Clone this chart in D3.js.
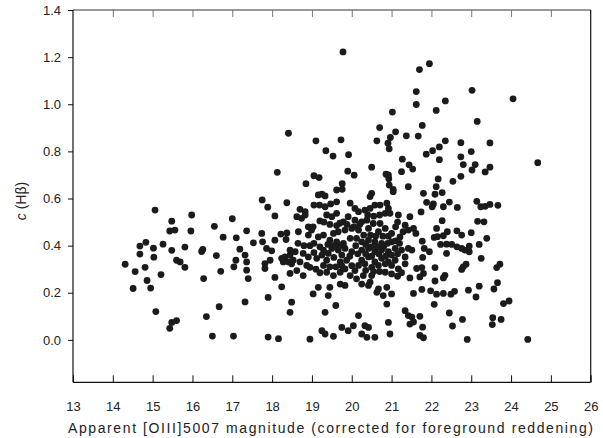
<!DOCTYPE html>
<html>
<head>
<meta charset="utf-8">
<script src="https://cdn.jsdelivr.net/npm/d3@7"></script>
<style>
    body { margin: 0; background: #fff; }
    text { font-family: "Liberation Sans", Arial, sans-serif; fill: #222; }
</style>
</head>
<body>
<svg id="chart" width="603" height="438"></svg>
<script>
// tick values
var xTicks = [13, 14, 15, 16, 17, 18, 19, 20, 21, 22, 23, 24, 25, 26];
var yTicks = [0, 0.2, 0.4, 0.6, 0.8, 1.0, 1.2, 1.4];

// [apparent OIII 5007 mag, c(Hb)]
var bright = [
    [15.06,0.551],[15.48,0.504],[15.98,0.530],[17.00,0.514],[15.43,0.462],[15.56,0.466],[15.96,0.462],[16.55,0.482],[16.77,0.436],[17.10,0.433],
    [14.68,0.398],[14.83,0.414],[15.02,0.389],[15.26,0.406],[15.48,0.380],[15.81,0.394],[16.23,0.375],[16.26,0.384],[16.60,0.358],[17.19,0.385],
    [14.68,0.364],[15.03,0.351],[15.60,0.338],[15.69,0.331],[15.81,0.308],[17.09,0.338],[17.04,0.310],[14.31,0.321],[14.56,0.290],[14.81,0.308],
    [15.21,0.277],[14.86,0.252],[14.51,0.218],[14.95,0.220],[16.28,0.260],[16.71,0.291],[15.08,0.120],[15.48,0.074],[15.60,0.082],[15.43,0.049],
    [16.35,0.099],[16.67,0.141],[16.50,0.016],[17.03,0.016]
];
var upperMid = [
    [19.78,1.222],[21.02,0.967],[18.41,0.877],[20.70,0.901],[21.10,0.883],[20.97,0.859],[21.37,0.866],[19.10,0.845],[19.73,0.849],[20.63,0.845],
    [20.91,0.835],[20.94,0.811],[19.35,0.803],[19.53,0.780],[19.92,0.786],[21.27,0.767],[21.44,0.743],[20.50,0.733],[21.25,0.714],[18.13,0.711],
    [19.05,0.697],[19.18,0.689],[19.90,0.716],[20.06,0.699],[20.86,0.703],[20.92,0.700],[20.93,0.684],[20.94,0.657],[18.85,0.663],[19.76,0.663],
    [19.62,0.636],[19.76,0.639],[21.04,0.639],[21.42,0.650]
];
var upperFaint = [
    [21.95,1.172],[21.70,1.147],[21.62,1.054],[23.02,1.059],[24.05,1.023],[21.62,0.999],[22.35,1.014],[22.12,0.974],[23.15,0.927],[21.77,0.910],
    [21.67,0.865],[22.35,0.845],[22.74,0.837],[23.47,0.836],[22.20,0.819],[22.03,0.803],[21.87,0.788],[23.00,0.799],[22.74,0.777],[22.20,0.765],
    [21.53,0.725],[22.80,0.744],[23.10,0.744],[23.02,0.721],[23.47,0.733],[23.35,0.713],[24.67,0.752],[22.17,0.683],[22.74,0.694],[22.54,0.673],
    [22.12,0.650]
];
var lowerFaint = [
    [22.09,0.618],[22.27,0.625],[21.80,0.622],[21.88,0.584],[22.05,0.577],[22.02,0.565],[22.30,0.565],[22.45,0.585],[22.65,0.562],[21.74,0.543],
    [23.14,0.588],[23.24,0.565],[23.35,0.567],[23.47,0.575],[23.67,0.571],[22.27,0.506],[23.16,0.503],[23.32,0.501],[21.55,0.473],[21.61,0.452],
    [22.13,0.473],[22.07,0.435],[22.15,0.438],[22.30,0.442],[22.40,0.459],[22.64,0.463],[22.76,0.445],[23.00,0.455],[23.39,0.431],[21.77,0.419],
    [23.20,0.405],[22.23,0.405],[22.38,0.406],[22.51,0.405],[22.64,0.395],[22.76,0.388],[22.84,0.381],[22.95,0.398],[22.95,0.374],[22.38,0.367],
    [21.82,0.388],[21.95,0.374],[21.51,0.381],[21.78,0.350],[23.25,0.346],[21.63,0.303],[21.76,0.307],[21.80,0.282],[21.71,0.267],[22.09,0.307],
    [22.80,0.310],[22.87,0.321],[22.76,0.299],[23.64,0.307],[23.72,0.321],[21.46,0.263],[22.30,0.263],[22.34,0.274],[22.09,0.250],[23.66,0.243],
    [23.57,0.216],[23.20,0.228],[22.93,0.211],[23.12,0.182],[21.55,0.197],[21.76,0.214],[21.98,0.208],[22.13,0.194],[22.30,0.197],[22.49,0.194],
    [22.58,0.206],[22.07,0.151],[22.45,0.114],[23.81,0.154],[23.95,0.165],[21.51,0.097],[21.55,0.076],[21.71,0.100],[21.78,0.054],[22.53,0.059],
    [22.78,0.087],[23.54,0.094],[23.53,0.065],[23.75,0.087],[21.71,0.019],[21.80,0.009],[22.90,0.002],[24.42,0.002]
];
var midLeft = [
    [17.75,0.594],[18.37,0.582],[17.89,0.563],[18.07,0.526],[17.36,0.463],[17.53,0.412],[17.74,0.452],[17.76,0.416],[18.07,0.423],[18.22,0.449],
    [18.37,0.454],[18.35,0.426],[17.32,0.360],[17.36,0.331],[17.36,0.296],[17.40,0.260],[17.86,0.388],[17.99,0.378],[17.82,0.324],[17.82,0.303],
    [17.95,0.338],[18.07,0.265],[18.24,0.346],[18.32,0.352],[18.28,0.331],[18.41,0.331],[18.45,0.360],[18.45,0.282],[18.24,0.225],[17.90,0.180],
    [17.32,0.161],[17.90,0.012],[18.16,0.005]
];
var coreUpperLeft = [
    [19.16,0.615],[19.25,0.619],[19.33,0.611],[19.05,0.572],[19.19,0.572],[19.33,0.565],[19.47,0.577],[19.62,0.586],[19.96,0.580],[20.08,0.558],
    [18.70,0.554],[18.83,0.544],[18.62,0.523],[18.74,0.516],[18.83,0.530],[19.37,0.530],[19.50,0.523],[19.62,0.537],[19.79,0.501],[19.91,0.523],
    [20.08,0.508],[18.91,0.480],[19.03,0.480],[18.99,0.466],[18.66,0.459],[18.91,0.445],[19.16,0.437],[19.29,0.445],[19.54,0.452],[19.66,0.459],
    [19.83,0.466],[20.00,0.473],[19.45,0.423],[19.62,0.416],[19.79,0.409],[19.96,0.431],[18.45,0.381],[18.58,0.374],[18.78,0.367],[18.91,0.352],
    [19.20,0.395],[19.29,0.381],[19.41,0.367],[19.50,0.388],[19.66,0.381],[19.83,0.388],[20.00,0.374],[18.53,0.338],[18.70,0.331],[19.12,0.346],
    [19.37,0.338],[19.71,0.331],[19.87,0.338]
];
var coreUpperRight = [
    [20.50,0.622],[20.46,0.608],[21.04,0.629],[20.17,0.544],[20.33,0.551],[20.46,0.558],[20.58,0.572],[20.71,0.572],[20.88,0.580],[20.92,0.558],
    [20.84,0.537],[20.96,0.537],[21.17,0.530],[21.46,0.523],[20.25,0.501],[20.38,0.508],[20.54,0.494],[20.71,0.494],[20.17,0.466],[20.42,0.473],
    [20.67,0.459],[20.84,0.473],[21.34,0.487],[21.42,0.466],[21.29,0.459],[21.21,0.437],[21.00,0.452],[21.00,0.416],[20.12,0.431],[20.25,0.416],
    [20.42,0.423],[20.58,0.416],[20.75,0.409],[20.92,0.374],[21.09,0.388],[21.25,0.381],[21.42,0.388],[21.34,0.352],[20.25,0.381],[20.42,0.388],
    [20.58,0.374],[20.75,0.381],[20.25,0.338],[20.42,0.352],[20.58,0.331],[20.75,0.346],[20.92,0.331],[21.09,0.338]
];
var coreLowerLeft = [
    [18.49,0.323],[18.62,0.294],[18.78,0.273],[18.87,0.316],[18.95,0.308],[19.29,0.316],[19.37,0.287],[19.54,0.273],[19.71,0.287],[19.83,0.301],
    [19.96,0.273],[20.08,0.294],[20.12,0.259],[19.16,0.223],[19.03,0.195],[19.45,0.223],[19.41,0.188],[19.71,0.237],[19.83,0.231],[18.49,0.160],
    [18.45,0.117],[19.60,0.146],[19.33,0.117],[20.17,0.103],[19.25,0.039],[19.33,0.025],[19.54,0.015],[19.75,0.053],[19.91,0.039],[20.04,0.060],
    [18.95,0.003]
];
var coreLowerRight = [
    [20.17,0.316],[20.33,0.323],[20.50,0.308],[20.67,0.316],[20.84,0.323],[21.00,0.316],[21.17,0.301],[21.34,0.323],[20.29,0.273],[20.50,0.273],
    [20.46,0.245],[20.84,0.287],[21.00,0.280],[20.25,0.237],[20.42,0.231],[20.67,0.216],[20.63,0.202],[20.88,0.223],[20.79,0.188],[20.88,0.152],
    [21.00,0.195],[21.34,0.124],[21.42,0.103],[20.33,0.060],[20.42,0.053],[20.92,0.074],[20.25,0.025],[20.38,0.011],[20.58,0.011],[20.96,0.025],
    [21.46,0.067]
];
// overlapping dots inside the solid black clump
var coreFill = [
    [19.45,0.490],[19.62,0.485],[19.30,0.500],[19.20,0.505],[19.70,0.495],[19.88,0.490],[20.05,0.480],[20.20,0.490],[20.30,0.445],[20.47,0.445],
    [20.60,0.440],[20.78,0.440],[20.92,0.440],[20.55,0.525],[20.70,0.530],[20.40,0.530],[21.10,0.480],[21.15,0.500],[19.40,0.405],[19.55,0.400],
    [19.70,0.400],[20.10,0.400],[20.15,0.365],[19.95,0.355],[19.75,0.360],[19.55,0.350],[19.25,0.360],[19.05,0.370],[19.05,0.410],[18.95,0.400],
    [18.80,0.400],[18.65,0.410],[20.35,0.365],[20.50,0.355],[20.68,0.365],[20.85,0.355],[21.00,0.360],[21.15,0.365],[21.20,0.410],[21.10,0.420],
    [20.90,0.410],[20.50,0.395],[20.35,0.405],[20.65,0.395],[20.80,0.395],[19.45,0.310],[19.60,0.310],[19.75,0.315],[19.10,0.300],[19.20,0.285],
    [20.00,0.315],[20.35,0.295],[20.55,0.290],[20.70,0.290],[21.15,0.270],[21.25,0.285]
];

var allPts = bright.concat(upperMid, upperFaint, lowerFaint, midLeft,
    coreUpperLeft, coreUpperRight, coreLowerLeft, coreLowerRight, coreFill);

// plot box (window.top is taken, so own names)
var padL = 73, padR = 590.7, padT = 10, padB = 382.3;

var x = d3.scaleLinear().domain([13, 26]).range([padL, padR]);
var y = d3.scaleLinear().domain([-0.18, 1.4]).range([padB, padT]);

var svg = d3.select("svg#chart");

/*----------  axes  ----------*/
var gx = svg.append("g")
    .attr("transform", "translate(0," + padB + ")")
    .call(d3.axisBottom(x).tickValues(xTicks).tickSize(-7).tickPadding(19));
gx.select(".domain").remove();
gx.selectAll("line").attr("stroke", "#111");
gx.selectAll("text").style("font-size", "13px").attr("fill", "#222");

var gTop = svg.append("g")
    .attr("transform", "translate(0," + padT + ")")
    .call(d3.axisTop(x).tickValues(xTicks.slice(1, -1)).tickSize(-7).tickFormat(""));
gTop.select(".domain").remove();
gTop.selectAll("line").attr("stroke", "#777");

var gy = svg.append("g")
    .attr("transform", "translate(" + padL + ",0)")
    .call(d3.axisLeft(y).tickValues(yTicks).tickSize(5).tickPadding(7).tickFormat(d3.format(".1f")));
gy.select(".domain").remove();
gy.selectAll("line").attr("stroke", "#111");
gy.selectAll("text").style("font-size", "13px").attr("fill", "#222");

// frame
svg.append("line").attr("x1", padL).attr("x2", padR).attr("y1", padT).attr("y2", padT)
    .attr("stroke", "#777").attr("stroke-width", 1.6);
svg.append("line").attr("x1", padL).attr("x2", padL).attr("y1", padT).attr("y2", padB)
    .attr("stroke", "#111").attr("stroke-width", 1.2);
svg.append("line").attr("x1", padR).attr("x2", padR).attr("y1", padT).attr("y2", padB)
    .attr("stroke", "#111").attr("stroke-width", 1.2);
svg.append("line").attr("x1", padL).attr("x2", padR).attr("y1", padB).attr("y2", padB)
    .attr("stroke", "#111").attr("stroke-width", 1.2);

/*----------  points  ----------*/
svg.append("g")
    .selectAll("circle")
    .data(allPts)
    .enter()
    .append("circle")
    .attr("cx", d => x(d[0]))
    .attr("cy", d => y(d[1]))
    .attr("r", 3.4)
    .attr("fill", "#1b1b1b");

/*----------  labels  ----------*/
svg.append("text")
    .attr("x", 330.5)
    .attr("y", 433)
    .attr("text-anchor", "middle")
    .attr("textLength", 525)
    .attr("lengthAdjust", "spacing")
    .style("font-size", "14px")
    .text("Apparent [OIII]5007 magnitude (corrected for foreground reddening)");

var yl = svg.append("text")
    .attr("transform", "translate(26,201) rotate(-90)")
    .attr("text-anchor", "middle")
    .style("font-size", "14px");
yl.append("tspan").style("font-style", "italic").text("c");
yl.append("tspan").text(" (H\u03B2)");
</script>
</body>
</html>
